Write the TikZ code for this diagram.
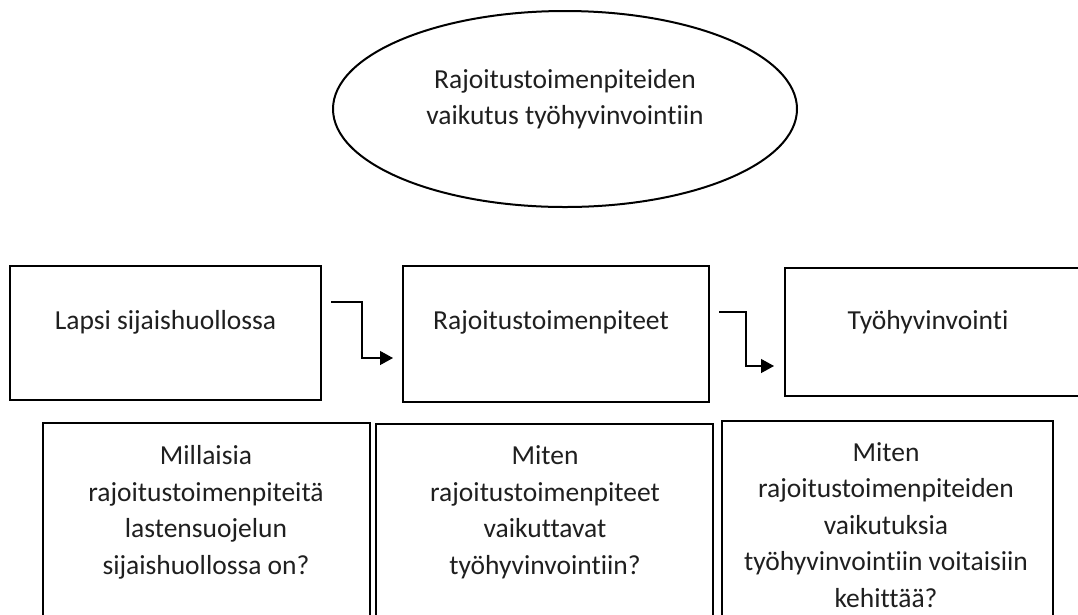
\documentclass[tikz,border=0pt]{standalone}
\usepackage{fontspec}
\setmainfont{Carlito}[Ligatures={NoCommon}]
\usetikzlibrary{arrows.meta,shapes.geometric}
\begin{document}
\begin{tikzpicture}[x=1pt,y=-1pt,
  box/.style={draw, rectangle, line width=2.5pt, inner sep=0pt},
  txt/.style={inner sep=0pt, align=center, text=black!88, font=\fontsize{27.5}{36.5}\selectfont},
  oval/.style={draw, ellipse, line width=2pt, inner sep=0pt},
  arr/.style={line width=1.2pt, -{Triangle[length=13pt,width=14pt]}}]
\useasboundingbox (0,0) rectangle (1078,614);
\clip (0,0) rectangle (1078,614);
\fill[white] (0,0) rectangle (1078,614);
% title ellipse
\node[oval, minimum width=464, minimum height=196] (e) at (565,109) {};
\node[txt] (et) at (565,99) {Rajoitustoimenpiteiden\\vaikutus työhyvinvointiin};
% top row
\node[box, minimum width=311, minimum height=134] (b1) at (165.5,333) {};
\node[box, minimum width=306, minimum height=136] (b2) at (556,334) {};
\node[box, minimum width=315, minimum height=128] (b3) at (942.5,332) {};
\node[txt] (t1) at (165.5,322) {Lapsi sijaishuollossa};
\node[txt] (t2) at (551,322) {Rajoitustoimenpiteet};
\node[txt] (t3) at (928,322) {Työhyvinvointi};
% arrows
\coordinate (a1s) at (331,302);
\coordinate (a1e) at (393,358);
\coordinate (a2s) at (719,312);
\coordinate (a2e) at (774,366);
\draw[arr] (a1s) -- ++(31,0) |- (a1e);
\draw[arr] (a2s) -- ++(27,0) |- (a2e);
% bottom row
\node[box, minimum width=327, minimum height=217] (q1) at (206.5,531.5) {};
\node[box, minimum width=337, minimum height=216] (q2) at (544.5,532) {};
\node[box, minimum width=331, minimum height=219] (q3) at (887.5,530.5) {};
\node[txt] (qt1) at (206,512.5) {Millaisia\\rajoitustoimenpiteitä\\lastensuojelun\\sijaishuollossa on?};
\node[txt] (qt2) at (545,512) {Miten\\rajoitustoimenpiteet\\vaikuttavat\\työhyvinvointiin?};
\node[txt] (qt3) at (886,525) {Miten\\rajoitustoimenpiteiden\\vaikutuksia\\työhyvinvointiin voitaisiin\\kehittää?};
\end{tikzpicture}
\end{document}
